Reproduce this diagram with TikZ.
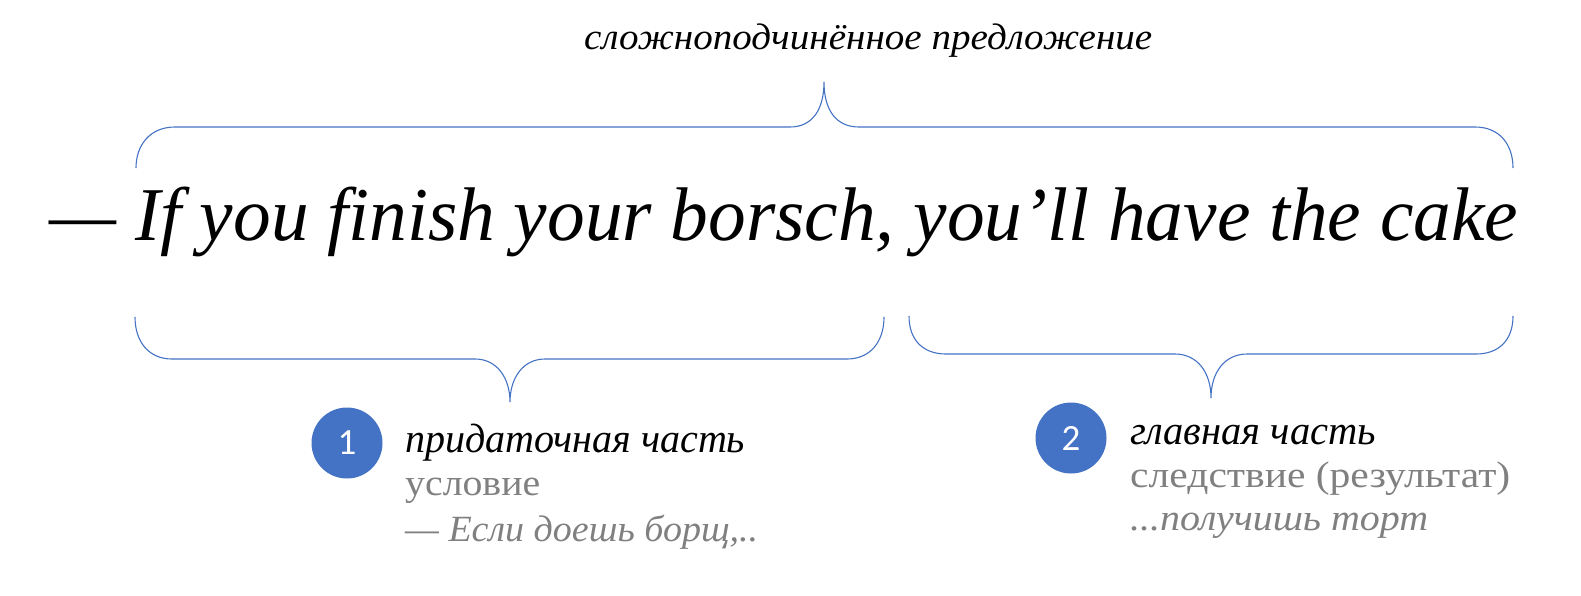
\documentclass[tikz,border=0pt]{standalone}
\usepackage{fontspec}
\setmainfont{Liberation Serif}
\newfontfamily\numfont{Carlito}
\usepackage{graphicx}
\definecolor{obl}{HTML}{4472C4}
\definecolor{gr}{HTML}{808080}
\newcommand\fitw[3]{\resizebox{#1pt}{\height}{\fontsize{#2}{#2}\selectfont #3}}
\begin{document}
\begin{tikzpicture}[x=1pt,y=-1pt,
 brace/.style={draw=obl, line width=1.1pt},
 num/.style={circle, fill=obl, minimum size=71pt, inner sep=0pt, text=white, font=\numfont\fontsize{37}{37}\selectfont},
 lbl/.style={anchor=base west, inner sep=0pt}]
\useasboundingbox (0,0) rectangle (1581,595);

% texts
\node[lbl] (top) at (584,49) {\fitw{568}{37}{\itshape сложноподчинённое предложение}};
\node[lbl] (main) at (49,240) {\fitw{1469}{76}{\itshape — If you finish your borsch, you’ll have the cake}};

\node[num] (c1) at (347,443) {1};
\node[num] (c2) at (1071,438) {2};

\node[lbl] (l1) at (405,452) {\fitw{340}{41}{\itshape придаточная часть}};
\node[lbl] (l2) at (405,495) {\fitw{135}{37}{\color{gr}условие}};
\node[lbl] (l3) at (405,541) {\fitw{353}{37}{\color{gr}\itshape — Если доешь борщ,..}};

\node[lbl] (r1) at (1130,444) {\fitw{246}{41}{\itshape главная часть}};
\node[lbl] (r2) at (1130,487) {\fitw{380}{37}{\color{gr}следствие (результат)}};
\node[lbl] (r3) at (1130,530) {\fitw{298}{37}{\color{gr}\itshape ...получишь торт}};

% braces
\draw[brace] (136,168) .. controls (136,145) and (150,127) .. (175,127) -- (790,127)
  .. controls (812,127) and (824,110) .. (824,82)
  .. controls (824,110) and (836,127) .. (859,127) -- (1475,127)
  .. controls (1500,127) and (1513,145) .. (1513,168);

\draw[brace] (135,317) .. controls (135,342) and (149,359) .. (172,359) -- (475,359)
  .. controls (497,359) and (510,378) .. (510,402)
  .. controls (510,378) and (523,359) .. (545,359) -- (847,359)
  .. controls (870,359) and (884,342) .. (884,317);

\draw[brace] (909,316) .. controls (909,340) and (923,354) .. (946,354) -- (1175,354)
  .. controls (1197,354) and (1211,372) .. (1211,398)
  .. controls (1211,372) and (1225,354) .. (1247,354) -- (1476,354)
  .. controls (1499,354) and (1513,340) .. (1513,316);
\end{tikzpicture}
\end{document}
